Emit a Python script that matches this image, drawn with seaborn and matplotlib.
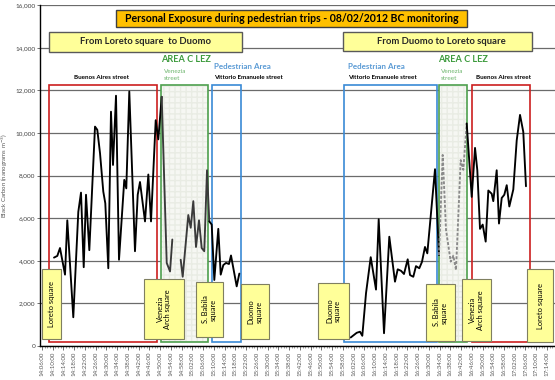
import matplotlib
matplotlib.use("Agg")
import matplotlib.pyplot as plt
from matplotlib.patches import Rectangle
from matplotlib.ticker import FixedLocator, MultipleLocator, FuncFormatter
import numpy as np
import pandas as pd
import seaborn as sns

# ---- Black carbon readings (ng/m3), pedestrian trips of 08/02/2012 ----
# Trip 1: Loreto square -> Duomo
trip1_buenos_aires_time = ["14:10:28", "14:11:42", "14:12:42", "14:14:34", "14:15:25", "14:17:39",
                           "14:19:31", "14:20:31", "14:21:32", "14:22:23", "14:23:37", "14:25:44",
                           "14:26:35", "14:27:36", "14:28:49", "14:29:34", "14:30:41", "14:31:41",
                           "14:32:26", "14:33:33", "14:34:40", "14:36:38", "14:37:23", "14:38:30",
                           "14:40:37", "14:41:38", "14:42:29", "14:44:21", "14:45:35", "14:46:35",
                           "14:48:20", "14:49:18", "14:50:34"]
trip1_buenos_aires_bc = [4150, 4230, 4600, 3350, 5900, 1350, 6300, 7200, 3700, 7100, 4500, 10300,
                         10150, 9050, 7250, 6700, 3650, 11000, 8500, 11750, 4050, 7800, 7400, 11950,
                         4450, 7100, 7700, 5850, 8050, 5850, 10600, 9700, 11700]

trip1_venezia_a_time = ["14:50:34", "14:52:26", "14:53:40", "14:54:31"]
trip1_venezia_a_bc = [11700, 3900, 3500, 5000]
trip1_venezia_b_time = ["14:57:38", "14:58:23", "15:00:28", "15:01:22", "15:02:20", "15:03:20",
                        "15:04:27", "15:05:27", "15:06:25", "15:07:26", "15:08:17"]
trip1_venezia_b_bc = [4050, 3250, 6150, 5550, 6800, 4650, 5900, 4600, 4450, 8250, 5850]

trip1_vittorio_time = ["15:08:17", "15:09:11", "15:10:09", "15:11:38", "15:12:32", "15:13:30",
                       "15:14:30", "15:15:37", "15:16:22", "15:18:29", "15:19:28"]
trip1_vittorio_bc = [5850, 5700, 3100, 5500, 3350, 3800, 3900, 3850, 4250, 2800, 3400]

# Trip 2: Duomo -> Loreto square
trip2_vittorio_time = ["16:00:56", "16:03:10", "16:04:23", "16:05:15", "16:06:38", "16:08:23",
                       "16:10:21", "16:11:21", "16:13:20", "16:15:18", "16:17:25", "16:18:26",
                       "16:19:40", "16:20:46", "16:22:09", "16:23:01", "16:24:14", "16:25:14",
                       "16:26:28", "16:27:28", "16:28:35", "16:29:27", "16:32:19", "16:33:48"]
trip2_vittorio_bc = [400, 620, 670, 480, 2480, 4170, 2650, 5950, 600, 5130, 3020, 3600,
                     3530, 3380, 4070, 3330, 3250, 3750, 3650, 3950, 4650, 4350, 8300, 4270]

trip2_venezia_time = ["16:33:48", "16:35:11", "16:36:25", "16:38:10", "16:39:08", "16:40:08",
                      "16:41:53", "16:42:51", "16:44:07"]
trip2_venezia_bc = [4270, 8970, 5450, 3960, 4240, 3570, 8730, 8270, 10450]

trip2_buenos_aires_time = ["16:44:07", "16:45:59", "16:47:13", "16:48:04", "16:49:04", "16:50:04",
                           "16:51:11", "16:52:10", "16:53:25", "16:54:01", "16:55:17", "16:56:08",
                           "16:57:09", "16:58:07", "16:59:01", "16:59:59", "17:01:28", "17:02:44",
                           "17:03:58", "17:05:11", "17:06:11"]
trip2_buenos_aires_bc = [10450, 7000, 9300, 8250, 5500, 5700, 4900, 7300, 7150, 6800, 8250, 5750,
                         6950, 7100, 7550, 6550, 7350, 9650, 10850, 10050, 7500]

# Street sections walked (start, end, kind)
zone_start = ["14:08:36", "14:50:18", "15:09:17", "15:58:26", "16:33:49", "16:46:05"]
zone_end = ["14:48:49", "15:07:48", "15:20:06", "16:33:04", "16:44:14", "17:07:41"]
zone_kind = ["buenos_aires", "venezia", "vittorio", "vittorio", "venezia", "buenos_aires"]
zone_low, zone_high = 200, 12250


def minutes(times):
    """Minutes elapsed since 14:00:00."""
    td = pd.to_timedelta(pd.Series(times)) - pd.Timedelta("14:00:00")
    return td.dt.total_seconds().to_numpy() / 60.0


segments = [
    ("t1_ba", trip1_buenos_aires_time, trip1_buenos_aires_bc, "black", "-"),
    ("t1_va", trip1_venezia_a_time, trip1_venezia_a_bc, "#3a3a3a", "-"),
    ("t1_vb", trip1_venezia_b_time, trip1_venezia_b_bc, "#3a3a3a", "-"),
    ("t1_vi", trip1_vittorio_time, trip1_vittorio_bc, "black", "-"),
    ("t2_vi", trip2_vittorio_time, trip2_vittorio_bc, "black", "-"),
    ("t2_ve", trip2_venezia_time, trip2_venezia_bc, "#8a8a8a", (0, (1.6, 0.9))),
    ("t2_ba", trip2_buenos_aires_time, trip2_buenos_aires_bc, "black", "-"),
]
frames = [pd.DataFrame({"minute": minutes(t), "bc": v, "segment": name})
          for name, t, v, _, _ in segments]
df = pd.concat(frames, ignore_index=True)

sns.set_theme(style="white")
plt.rcParams["font.family"] = ["Lato", "DejaVu Sans"]

W, H = 555, 380
fig = plt.figure(figsize=(W / 100, H / 100), dpi=100)
fig.patch.set_facecolor("white")


def fx(px):
    return px / W


def fy(py):
    return 1 - py / H


ax = fig.add_axes([fx(40), fy(346), (565 - 40) / W, (346 - 5.2) / H])
ax.set_facecolor("white")

# horizontal grid
for g in range(0, 16001, 2000):
    ax.axhline(g, color="#6b6b6b", lw=0.9, zorder=0.5)

# street-section frames
zone_style = {
    "buenos_aires": dict(edge="#cc1f1f", face="none"),
    "venezia": dict(edge="#4ea04e", face="#f6f7f3"),
    "vittorio": dict(edge="#3a8ad6", face="none"),
}
zs, ze = minutes(zone_start), minutes(zone_end)
for s, e, k in zip(zs, ze, zone_kind):
    st = zone_style[k]
    if st["face"] != "none":
        ax.add_patch(Rectangle((s, zone_low), e - s, zone_high - zone_low,
                               facecolor=st["face"], edgecolor="#e9ece4", hatch="+++",
                               lw=0, zorder=0.8))
    ax.add_patch(Rectangle((s, zone_low), e - s, zone_high - zone_low,
                           facecolor="none", edgecolor=st["edge"], lw=1.2, zorder=1))

for name, _, _, color, ls in segments:
    sns.lineplot(data=df[df["segment"] == name], x="minute", y="bc", ax=ax,
                 color=color, linestyle=ls, lw=1.35, sort=False, estimator=None,
                 legend=False, zorder=3)

px_per_min = 2.686
ax.set_xlim(6 - 2 / px_per_min, 6 + (565 - 42) / px_per_min)
ax.set_ylim(0, 16000)
ax.set_xlabel("")
ax.set_ylabel("")

ax.xaxis.set_major_locator(FixedLocator(np.arange(6, 195, 4)))
ax.xaxis.set_minor_locator(MultipleLocator(1))
ax.xaxis.set_major_formatter(FuncFormatter(
    lambda m, _: f"{14 + int(round(m)) // 60}:{int(round(m)) % 60:02d}:00"))
ax.yaxis.set_major_locator(MultipleLocator(2000))
ax.yaxis.set_major_formatter(FuncFormatter(lambda v, _: f"{int(v):,}"))

ax.tick_params(axis="x", which="major", labelsize=4.4, labelcolor="#595959", rotation=90,
               length=3, width=0.6, color="#595959", pad=1, bottom=True, direction="out")
ax.tick_params(axis="x", which="minor", length=1.6, width=0.5, color="#7a7a7a", bottom=True)
ax.tick_params(axis="y", labelsize=4.6, labelcolor="#404040", length=2, width=0.6,
               color="#595959", pad=1.5, left=True)

for side in ["top", "right"]:
    ax.spines[side].set_visible(False)
for side in ["left", "bottom"]:
    ax.spines[side].set_color("black")
    ax.spines[side].set_linewidth(1.0)

fig.text(fx(4.5), fy(176), r"Black Carbon (nanograms m$^{-3}$)", rotation=90,
         ha="center", va="center", fontsize=4.4, color="#595959")


def box(x0, y0, x1, y1, face, edge, lw=0.9, shadow=True):
    if shadow:
        fig.add_artist(Rectangle((fx(x0 + 1.2), fy(y1 + 1.2)), (x1 - x0) / W, (y1 - y0) / H,
                                 transform=fig.transFigure, facecolor="#b5b5b5",
                                 edgecolor="none", zorder=9))
    fig.add_artist(Rectangle((fx(x0), fy(y1)), (x1 - x0) / W, (y1 - y0) / H,
                             transform=fig.transFigure, facecolor=face, edgecolor=edge,
                             lw=lw, zorder=10))


# title and trip direction banners
box(116, 10, 467, 27, "#ffc000", "#3f3f3f", lw=1.0)
fig.text(fx(291.5), fy(18.5), "Personal Exposure during pedestrian trips - 08/02/2012 BC monitoring",
         ha="center", va="center", fontsize=7.6, fontweight="bold", color="black", zorder=11)
box(49, 32, 242, 52, "#ffff99", "#595959", lw=1.0)
fig.text(fx(145.5), fy(42), "From Loreto square  to Duomo", ha="center", va="center",
         fontsize=6.8, fontweight="bold", zorder=11)
box(343, 32, 532, 51, "#ffff99", "#595959", lw=1.0)
fig.text(fx(441), fy(41.5), "From Duomo to Loreto square", ha="center", va="center",
         fontsize=6.8, fontweight="bold", zorder=11)

# street names above the frames
for x0 in (163, 440):
    fig.text(fx(x0 + 23), fy(59.5), "AREA C LEZ", ha="center", va="center",
             fontsize=6.6, fontweight="bold", color="#3b9a3b")
    fig.text(fx(x0 + 1), fy(75), "Venezia\nstreet", ha="left", va="center",
             fontsize=4.6, color="#6db56d", linespacing=1.5)
for x0 in (214, 348):
    fig.text(fx(x0), fy(66.5), "Pedestrian Area", ha="left", va="center",
             fontsize=5.8, fontweight="bold", color="#5b9bd5")
    fig.text(fx(x0), fy(77.5), "Vittorio Emanuele street", ha="left", va="center",
             fontsize=4.5, fontweight="bold", color="black")
for xc in (102, 503):
    fig.text(fx(xc), fy(77.5), "Buenos Aires street", ha="center", va="center",
             fontsize=4.5, fontweight="bold", color="black")

# square name tags along the bottom
tags = [
    (42, 269, 61, 339, "Loreto square"),
    (144, 279, 184, 339, "Venezia\nArch square"),
    (196, 282, 223, 337, "S. Babila\nsquare"),
    (241, 284, 269, 339, "Duomo\nsquare"),
    (318, 283, 349, 339, "Duomo\nsquare"),
    (426, 284, 455, 341, "S. Babila\nsquare"),
    (462, 279, 491, 341, "Venezia\nArch square"),
    (527, 269, 553, 342, "Loreto square"),
]
for x0, y0, x1, y1, label in tags:
    box(x0, y0, x1, y1, "#ffff99", "#7f7f60", lw=0.8)
    fig.text(fx((x0 + x1) / 2), fy((y0 + y1) / 2), label, rotation=90, ha="center",
             va="center", fontsize=5.4, color="black", linespacing=1.1, zorder=11)

fig.savefig("out.png", dpi=100, facecolor="white")
